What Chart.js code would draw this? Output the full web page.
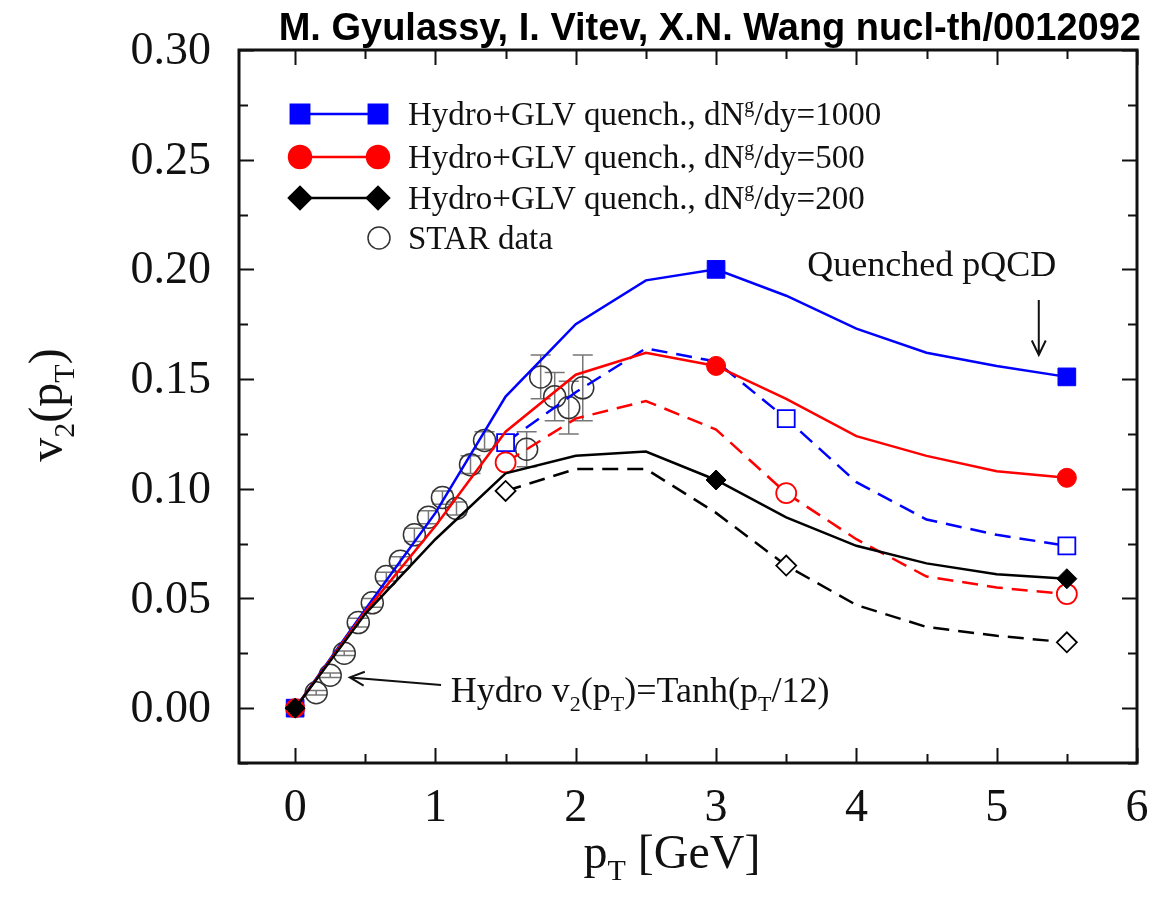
<!DOCTYPE html>
<html>
<head>
<meta charset="utf-8">
<title>v2(pT) Hydro+GLV</title>
<script src="https://cdn.jsdelivr.net/npm/chart.js@4.4.0/dist/chart.umd.min.js"></script>
<style>
  html, body { margin: 0; padding: 0; background: #fff; }
  #wrap { width: 1152px; height: 901px; }
</style>
</head>
<body>
<div id="wrap"><canvas id="v2Chart" width="1152" height="901"></canvas></div>
<script>
// valores
const ptGrid = [0, 0.5, 1, 1.5, 2, 2.5, 3, 3.5, 4, 4.5, 5, 5.5];
const v2Solid1000 = [0, 0.045, 0.089, 0.142, 0.175, 0.195, 0.200, 0.188, 0.173, 0.162, 0.156, 0.151];
const v2Solid500  = [0, 0.044, 0.083, 0.126, 0.152, 0.162, 0.156, 0.141, 0.124, 0.115, 0.108, 0.105];
const v2Solid200  = [0, 0.043, 0.077, 0.107, 0.115, 0.117, 0.104, 0.087, 0.074, 0.066, 0.061, 0.059];

const ptQuench = [1.5, 2, 2.5, 3, 3.5, 4, 4.5, 5, 5.5];
const v2Dash1000 = [0.121, 0.144, 0.164, 0.158, 0.132, 0.103, 0.086, 0.079, 0.074];
const v2Dash500  = [0.112, 0.132, 0.140, 0.127, 0.098, 0.077, 0.060, 0.055, 0.052];
const v2Dash200  = [0.099, 0.109, 0.109, 0.089, 0.065, 0.047, 0.037, 0.033, 0.030];

const solidMarkers = [0, 3, 5.5];
const dashMarkers = [1.5, 3.5, 5.5];

const ptStar = [0.15, 0.25, 0.35, 0.45, 0.55, 0.65, 0.75, 0.85, 0.95, 1.05, 1.15, 1.25, 1.35, 1.65, 1.75, 1.85, 1.95, 2.05];
const v2Star = [0.007, 0.015, 0.025, 0.039, 0.048, 0.060, 0.067, 0.079, 0.087, 0.096, 0.091, 0.111, 0.122, 0.118, 0.151, 0.142, 0.137, 0.146];
const v2StarErr = [0.001, 0.001, 0.001, 0.002, 0.002, 0.002, 0.002, 0.003, 0.003, 0.003, 0.003, 0.004, 0.004, 0.008, 0.010, 0.011, 0.012, 0.015];

const xTicks = [0, 1, 2, 3, 4, 5, 6];
const yTicks = [0, 0.05, 0.10, 0.15, 0.20, 0.25, 0.30];

const SERIF = '"Liberation Serif", "Times New Roman", serif';

function pts(xs, ys) {
  return xs.map((x, i) => ({ x: x, y: ys[i] }));
}

function markerSize(list, r) {
  return ctx => (ctx.raw && list.includes(ctx.raw.x)) ? r : 0;
}

// texto com sub/sobrescrito
function richText(ctx, parts, x, y, size, align) {
  const small = Math.round(size * 0.62);
  let total = 0;
  parts.forEach(p => {
    ctx.font = (p.sub || p.sup ? small : size) + 'px ' + SERIF;
    p.w = ctx.measureText(p.t).width;
    total += p.w;
  });
  let cx = x;
  if (align === 'center') cx = x - total / 2;
  if (align === 'right') cx = x - total;
  ctx.textAlign = 'left';
  ctx.textBaseline = 'alphabetic';
  parts.forEach(p => {
    ctx.font = (p.sub || p.sup ? small : size) + 'px ' + SERIF;
    let dy = 0;
    if (p.sub) dy = size * 0.25;
    if (p.sup) dy = -size * 0.38;
    ctx.fillText(p.t, cx, y + dy);
    cx += p.w;
  });
}

function arrow(ctx, x1, y1, x2, y2) {
  const a = Math.atan2(y2 - y1, x2 - x1);
  const h = 16;
  ctx.beginPath();
  ctx.moveTo(x1, y1);
  ctx.lineTo(x2, y2);
  ctx.moveTo(x2 - h * Math.cos(a - 0.45), y2 - h * Math.sin(a - 0.45));
  ctx.lineTo(x2, y2);
  ctx.lineTo(x2 - h * Math.cos(a + 0.45), y2 - h * Math.sin(a + 0.45));
  ctx.stroke();
}

// barras de erro dos dados STAR
const errorBars = {
  id: 'errorBars',
  beforeDatasetsDraw(chart) {
    const { ctx, scales: { x, y } } = chart;
    ctx.save();
    ctx.strokeStyle = '#777';
    ctx.lineWidth = 1.5;
    ptStar.forEach((p, i) => {
      const px = x.getPixelForValue(p);
      const top = y.getPixelForValue(v2Star[i] + v2StarErr[i]);
      const bot = y.getPixelForValue(v2Star[i] - v2StarErr[i]);
      ctx.beginPath();
      ctx.moveTo(px, top); ctx.lineTo(px, bot);
      ctx.moveTo(px - 10, top); ctx.lineTo(px + 10, top);
      ctx.moveTo(px - 10, bot); ctx.lineTo(px + 10, bot);
      ctx.stroke();
    });
    ctx.restore();
  }
};

// moldura, ticks internos, rotulos, legenda e textos
const decorations = {
  id: 'decorations',
  afterDraw(chart) {
    const { ctx, chartArea: a, scales: { x, y } } = chart;
    ctx.save();
    ctx.strokeStyle = '#111';
    ctx.lineWidth = 2;
    for (let v = -0.025; v <= 0.3001; v += 0.025) {
      const py = Math.round(y.getPixelForValue(v)) + 0.5;
      const len = Math.abs(Math.round(v / 0.025)) % 2 === 0 ? 15 : 9;
      ctx.beginPath();
      ctx.moveTo(a.left, py); ctx.lineTo(a.left + len, py);
      ctx.moveTo(a.right, py); ctx.lineTo(a.right - len, py);
      ctx.stroke();
    }
    for (let v = 0; v <= 6.001; v += 0.5) {
      const px = Math.round(x.getPixelForValue(v)) + 0.5;
      const len = Math.round(v * 2) % 2 === 0 ? 15 : 9;
      ctx.beginPath();
      ctx.moveTo(px, a.bottom); ctx.lineTo(px, a.bottom - len);
      ctx.moveTo(px, a.top); ctx.lineTo(px, a.top + len);
      ctx.stroke();
    }
    ctx.lineWidth = 3;
    ctx.strokeRect(a.left, a.top, a.right - a.left, a.bottom - a.top);

    // rotulos dos ticks
    ctx.fillStyle = '#111';
    ctx.font = '46px ' + SERIF;
    ctx.textAlign = 'right';
    ctx.textBaseline = 'middle';
    yTicks.forEach(v => ctx.fillText(v.toFixed(2), a.left - 28, y.getPixelForValue(v) + 2));
    ctx.textAlign = 'center';
    xTicks.forEach(v => ctx.fillText(String(v), x.getPixelForValue(v), a.bottom + 46));

    // titulo
    ctx.fillStyle = '#000';
    ctx.font = 'bold 38px "Liberation Sans", Arial, sans-serif';
    ctx.textAlign = 'right';
    ctx.textBaseline = 'middle';
    ctx.fillText('M. Gyulassy, I. Vitev, X.N. Wang nucl-th/0012092', 1141, 30);

    // titulos dos eixos
    ctx.fillStyle = '#111';
    richText(ctx, [{ t: 'p' }, { t: 'T', sub: true }, { t: ' [GeV]' }], 672, 868, 48, 'center');
    ctx.save();
    ctx.translate(62, 405);
    ctx.rotate(-Math.PI / 2);
    richText(ctx, [{ t: 'v' }, { t: '2', sub: true }, { t: '(p' }, { t: 'T', sub: true }, { t: ')' }], 0, 0, 48, 'center');
    ctx.restore();

    // legenda
    const rows = [
      { color: '#0000ff', style: 'rect', n: '1000', yy: 114 },
      { color: '#ff0000', style: 'circle', n: '500', yy: 157 },
      { color: '#000000', style: 'rectRot', n: '200', yy: 198 }
    ];
    rows.forEach(r => {
      ctx.strokeStyle = r.color;
      ctx.lineWidth = 2.5;
      ctx.beginPath();
      ctx.moveTo(300, r.yy); ctx.lineTo(378, r.yy);
      ctx.stroke();
      ctx.fillStyle = r.color;
      Chart.helpers.drawPoint(ctx, { pointStyle: r.style, radius: r.style === 'rect' ? 13 : 11, borderWidth: 1 }, 300, r.yy);
      Chart.helpers.drawPoint(ctx, { pointStyle: r.style, radius: r.style === 'rect' ? 13 : 11, borderWidth: 1 }, 378, r.yy);
      ctx.fillStyle = '#111';
      richText(ctx, [{ t: 'Hydro+GLV quench., dN' }, { t: 'g', sup: true }, { t: '/dy=' + r.n }], 408, r.yy + 11, 33, 'left');
    });
    ctx.strokeStyle = '#333';
    ctx.lineWidth = 1.5;
    ctx.beginPath();
    ctx.arc(379, 238, 11, 0, Math.PI * 2);
    ctx.stroke();
    ctx.fillStyle = '#111';
    richText(ctx, [{ t: 'STAR data' }], 408, 249, 33, 'left');

    // anotacoes
    ctx.strokeStyle = '#111';
    ctx.lineWidth = 2;
    richText(ctx, [{ t: 'Quenched pQCD' }], x.getPixelForValue(3.65), y.getPixelForValue(0.197), 36, 'left');
    arrow(ctx, x.getPixelForValue(5.3), y.getPixelForValue(0.186), x.getPixelForValue(5.3), y.getPixelForValue(0.161));
    richText(ctx, [{ t: 'Hydro v' }, { t: '2', sub: true }, { t: '(p' }, { t: 'T', sub: true }, { t: ')=Tanh(p' }, { t: 'T', sub: true }, { t: '/12)' }],
      x.getPixelForValue(1.11), y.getPixelForValue(0.003), 36, 'left');
    arrow(ctx, x.getPixelForValue(1.04), y.getPixelForValue(0.0105), x.getPixelForValue(0.39), y.getPixelForValue(0.014));
    ctx.restore();
  }
};

function createChart() {
  const ctx = document.getElementById('v2Chart').getContext('2d');
  window.v2Chart = new Chart(ctx, {
    type: 'scatter',
    data: {
      datasets: [
        {
          label: 'dNg/dy=200',
          data: pts(ptGrid, v2Solid200),
          showLine: true,
          borderColor: '#000',
          backgroundColor: '#000',
          borderWidth: 2.5,
          pointStyle: 'rectRot',
          pointRadius: markerSize(solidMarkers, 10),
          pointBorderWidth: 1
        },
        {
          label: 'dNg/dy=500',
          data: pts(ptGrid, v2Solid500),
          showLine: true,
          borderColor: '#ff0000',
          backgroundColor: '#ff0000',
          borderWidth: 2.5,
          pointStyle: 'circle',
          pointRadius: markerSize(solidMarkers, 9.5),
          pointBorderWidth: 1
        },
        {
          label: 'dNg/dy=1000',
          data: pts(ptGrid, v2Solid1000),
          showLine: true,
          borderColor: '#0000ff',
          backgroundColor: '#0000ff',
          borderWidth: 2.5,
          pointStyle: 'rect',
          pointRadius: markerSize(solidMarkers, 12.5),
          pointBorderWidth: 1
        },
        {
          label: 'dash 200',
          data: pts(ptQuench, v2Dash200),
          showLine: true,
          borderColor: '#000',
          backgroundColor: '#fff',
          borderWidth: 2.5,
          borderDash: [16, 9],
          pointStyle: 'rectRot',
          pointRadius: markerSize(dashMarkers, 10),
          pointBorderWidth: 1.8
        },
        {
          label: 'dash 500',
          data: pts(ptQuench, v2Dash500),
          showLine: true,
          borderColor: '#ff0000',
          backgroundColor: '#fff',
          borderWidth: 2.5,
          borderDash: [16, 9],
          pointStyle: 'circle',
          pointRadius: markerSize(dashMarkers, 10),
          pointBorderWidth: 1.8
        },
        {
          label: 'dash 1000',
          data: pts(ptQuench, v2Dash1000),
          showLine: true,
          borderColor: '#0000ff',
          backgroundColor: '#fff',
          borderWidth: 2.5,
          borderDash: [16, 9],
          pointStyle: 'rect',
          pointRadius: markerSize(dashMarkers, 12),
          pointBorderWidth: 1.8
        },
        {
          label: 'STAR data',
          data: pts(ptStar, v2Star),
          showLine: false,
          borderColor: '#333',
          backgroundColor: 'rgba(0,0,0,0)',
          pointStyle: 'circle',
          pointRadius: 11,
          pointBorderWidth: 1.5
        }
      ]
    },
    options: {
      responsive: false,
      animation: false,
      events: [],
      devicePixelRatio: 1,
      layout: { padding: { top: 50, right: 15, left: 0, bottom: 0 } },
      plugins: { legend: { display: false }, tooltip: { enabled: false } },
      scales: {
        x: {
          type: 'linear',
          min: -0.4,
          max: 6,
          grid: { display: false, drawTicks: false },
          border: { display: false },
          afterFit: s => { s.height = 138; },
          ticks: { display: false }
        },
        y: {
          type: 'linear',
          min: -0.025,
          max: 0.30,
          grid: { display: false, drawTicks: false },
          border: { display: false },
          afterFit: s => { s.width = 239; },
          ticks: { display: false }
        }
      }
    },
    plugins: [errorBars, decorations]
  });
}

window.addEventListener('DOMContentLoaded', createChart);
</script>
</body>
</html>
